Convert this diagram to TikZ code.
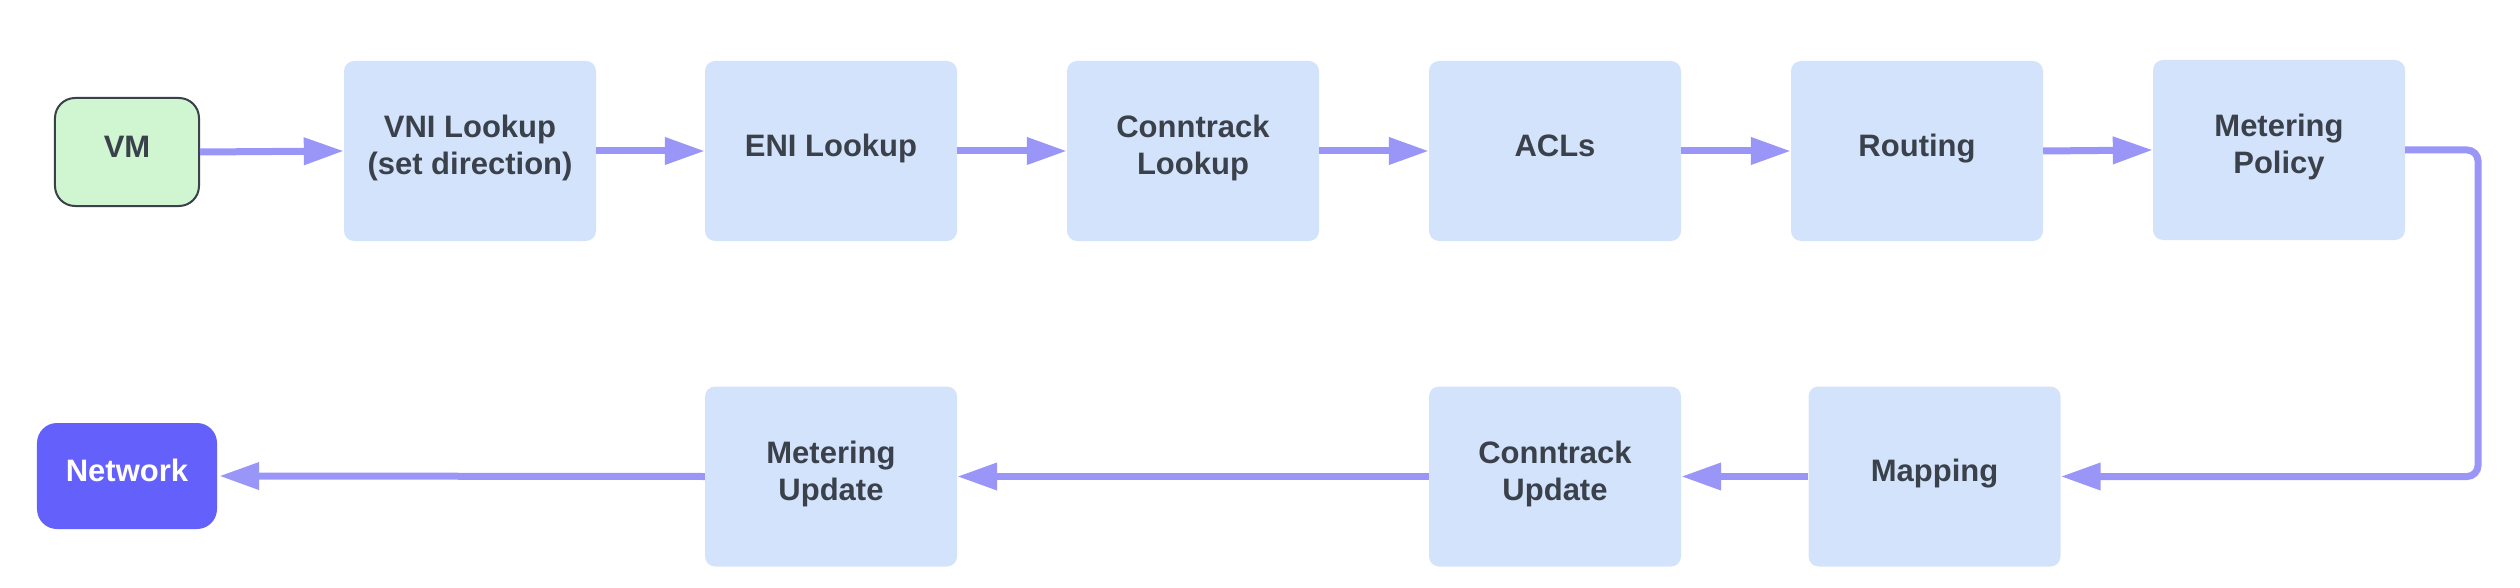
\documentclass[tikz,border=0pt]{standalone}
\usepackage{fontspec}
\setmainfont{Liberation Sans}
\usetikzlibrary{arrows.meta}
\definecolor{boxblue}{HTML}{D4E3FC}
\definecolor{vmgreen}{HTML}{CFF5D1}
\definecolor{netblue}{HTML}{6360FC}
\definecolor{arrowc}{HTML}{9A96F7}
\definecolor{txt}{HTML}{3A414A}
\tikzset{
  stage/.style={rectangle, rounded corners=10bp, fill=boxblue, minimum width=252bp, minimum height=180bp, inner sep=0pt},
  lbl/.style={font=\bfseries\fontsize{31bp}{37bp}\selectfont, text=txt, align=center, yshift=2bp, inner sep=0pt},
  wlbl/.style={lbl, text=white},
  vmbox/.style={rectangle, rounded corners=20bp, fill=vmgreen, draw=txt, line width=2bp, minimum width=144bp, minimum height=108bp, inner sep=0pt},
  netbox/.style={rectangle, rounded corners=20bp, fill=netblue, minimum width=180bp, minimum height=106bp, inner sep=0pt},
  flow/.style={draw=arrowc, line width=7bp, -{Triangle[length=40bp, width=26bp]}},
}
\begin{document}
\begin{tikzpicture}[x=1bp,y=-1bp]
\useasboundingbox (0,0) rectangle (2520,588);
% row 1
\node[vmbox, label={[lbl, name=vmT]center:{VM\strut}}] (vm) at (127,152) {};
\node[stage, label={[lbl, name=vniT]center:{VNI Lookup\strut\\(set direction)\strut}}] (vni) at (470,151) {};
\node[stage, label={[lbl, name=eniT]center:{ENI Lookup\strut}}] (eni) at (831,151) {};
\node[stage, label={[lbl, name=ctlT]center:{Conntrack\strut\\Lookup\strut}}] (ctl) at (1193,151) {};
\node[stage, label={[lbl, name=aclT]center:{ACLs\strut}}] (acl) at (1555,151) {};
\node[stage, label={[lbl, name=rtT]center:{Routing\strut}}] (rt) at (1917,151) {};
\node[stage, label={[lbl, name=mpT]center:{Metering\strut\\Policy\strut}}] (mp) at (2279,150) {};
% row 2
\node[netbox, label={[wlbl, name=netT]center:{Network\strut}}] (net) at (127,476) {};
\node[stage, label={[lbl, name=muT]center:{Metering\strut\\Update\strut}}] (mu) at (831,476.5) {};
\node[stage, label={[lbl, name=cuT]center:{Conntrack\strut\\Update\strut}}] (cu) at (1555,476.5) {};
\node[stage, label={[lbl, name=mapT]center:{Mapping\strut}}] (map) at (1934.5,476.5) {};
% connectors
\draw[flow] (vm.east) -- (vni.west);
\draw[flow] (vni.east) -- (eni.west);
\draw[flow] (eni.east) -- (ctl.west);
\draw[flow] (ctl.east) -- (acl.west);
\draw[flow] (acl.east) -- (rt.west);
\draw[flow] (rt.east) -- (mp.west);
\coordinate (lx) at (2478,300);
\draw[flow, rounded corners=11bp] (mp.east) -- (mp.east -| lx) -- (map.east -| lx) -- (map.east);
\draw[flow] (map.west) -- (cu.east);
\draw[flow] (cu.west) -- (mu.east);
\draw[flow, shorten >=2bp] (mu.west) -- (net.east);
\end{tikzpicture}
\end{document}
